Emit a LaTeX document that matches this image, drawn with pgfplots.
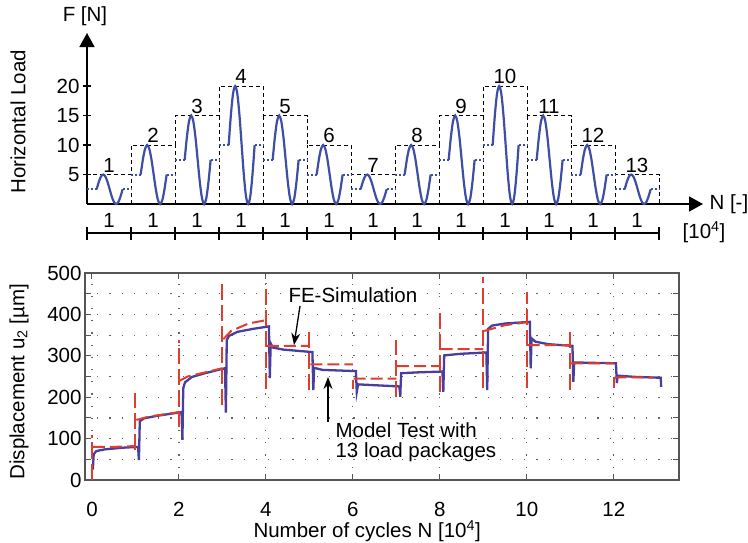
\documentclass[border=0pt]{standalone}
\usepackage{fontspec}
\setmainfont{Liberation Sans}
\usepackage{pgfplots}
\pgfplotsset{compat=1.18}
\usetikzlibrary{arrows.meta}
\definecolor{lblue}{RGB}{62,78,165}
\definecolor{mblue}{RGB}{72,62,158}
\definecolor{fered}{RGB}{222,62,45}
\definecolor{gridgray}{RGB}{100,100,100}
\definecolor{axgray}{RGB}{85,85,85}
\newcommand{\fs}{\fontsize{20.5}{24}\selectfont}
\begin{document}
\begin{tikzpicture}[font=\fs]
\useasboundingbox (0,0) rectangle (748pt,542pt);

% ---------------- top panel: load packages ----------------
\begin{axis}[
  at={(87pt,338pt)}, anchor=south west,
  scale only axis, width=616pt, height=171pt,
  xmin=0, xmax=14, ymin=0, ymax=29,
  axis lines=left,
  axis line style={black, line width=1.6pt, -{Triangle[length=14pt,width=15pt]}},
  xtick=\empty,
  ytick={5,10,15,20},
  tick align=center,
  major tick length=8pt,
  tick style={black, line width=1.2pt},
  /pgf/number format/assume math mode=true,
  tick label style={font=\fs},
  label style={font=\fs},
  ylabel={Horizontal Load},
  ylabel style={at={(axis description cs:-0.112,0.48)}, anchor=center},
  clip=false,
  unbounded coords=jump,
]
% dashed package boxes
\addplot[black, line width=0.9pt, dash pattern=on 4pt off 3pt] coordinates {
 (0,0)(0,5)(1,5)(1,10)(2,10)(2,15)(3,15)(3,20)(4,20)(4,15)(5,15)(5,10)(6,10)(6,5)
 (7,5)(7,10)(8,10)(8,15)(9,15)(9,20)(10,20)(10,15)(11,15)(11,10)(12,10)(12,5)(13,5)(13,0)};
\addplot[ycomb, black, line width=0.9pt, dash pattern=on 4pt off 3pt] coordinates {
 (1,5)(2,10)(3,15)(4,15)(5,10)(6,5)(7,5)(8,10)(9,15)(10,15)(11,10)(12,5)};
% dotted mean levels
\addplot[lblue, line width=2pt, dash pattern=on 2pt off 2pt] coordinates {
 (0,2.5)(0.22,2.5)(0.5,nan)(0.81,2.5)(1,2.5)(1,nan)
 (1,5)(1.22,5)(1.5,nan)(1.81,5)(2,5)(2,nan)
 (2,7.5)(2.22,7.5)(2.5,nan)(2.81,7.5)(3,7.5)(3,nan)
 (3,10)(3.22,10)(3.5,nan)(3.81,10)(4,10)(4,nan)
 (4,7.5)(4.22,7.5)(4.5,nan)(4.81,7.5)(5,7.5)(5,nan)
 (5,5)(5.22,5)(5.5,nan)(5.81,5)(6,5)(6,nan)
 (6,2.5)(6.22,2.5)(6.5,nan)(6.81,2.5)(7,2.5)(7,nan)
 (7,5)(7.22,5)(7.5,nan)(7.81,5)(8,5)(8,nan)
 (8,7.5)(8.22,7.5)(8.5,nan)(8.81,7.5)(9,7.5)(9,nan)
 (9,10)(9.22,10)(9.5,nan)(9.81,10)(10,10)(10,nan)
 (10,7.5)(10.22,7.5)(10.5,nan)(10.81,7.5)(11,7.5)(11,nan)
 (11,5)(11.22,5)(11.5,nan)(11.81,5)(12,5)(12,nan)
 (12,2.5)(12.22,2.5)(12.5,nan)(12.81,2.5)(13,2.5)};
% load cycles
\addplot[lblue, line width=2.2pt, smooth] coordinates {(0.22,2.5)(0.269,3.75)(0.318,4.67)(0.368,5)(0.417,4.67)(0.466,3.75)(0.515,2.5)(0.564,1.25)(0.613,0.33)(0.663,0)(0.712,0.33)(0.761,1.25)(0.81,2.5)};
\addplot[lblue, line width=2.2pt, smooth] coordinates {(1.22,5)(1.269,7.5)(1.318,9.33)(1.368,10)(1.417,9.33)(1.466,7.5)(1.515,5)(1.564,2.5)(1.613,0.67)(1.663,0)(1.712,0.67)(1.761,2.5)(1.81,5)};
\addplot[lblue, line width=2.2pt, smooth] coordinates {(2.22,7.5)(2.269,11.25)(2.318,14)(2.368,15)(2.417,14)(2.466,11.25)(2.515,7.5)(2.564,3.75)(2.613,1)(2.663,0)(2.712,1)(2.761,3.75)(2.81,7.5)};
\addplot[lblue, line width=2.2pt, smooth] coordinates {(3.22,10)(3.269,15)(3.318,18.66)(3.368,20)(3.417,18.66)(3.466,15)(3.515,10)(3.564,5)(3.613,1.34)(3.663,0)(3.712,1.34)(3.761,5)(3.81,10)};
\addplot[lblue, line width=2.2pt, smooth] coordinates {(4.22,7.5)(4.269,11.25)(4.318,14)(4.368,15)(4.417,14)(4.466,11.25)(4.515,7.5)(4.564,3.75)(4.613,1)(4.663,0)(4.712,1)(4.761,3.75)(4.81,7.5)};
\addplot[lblue, line width=2.2pt, smooth] coordinates {(5.22,5)(5.269,7.5)(5.318,9.33)(5.368,10)(5.417,9.33)(5.466,7.5)(5.515,5)(5.564,2.5)(5.613,0.67)(5.663,0)(5.712,0.67)(5.761,2.5)(5.81,5)};
\addplot[lblue, line width=2.2pt, smooth] coordinates {(6.22,2.5)(6.269,3.75)(6.318,4.67)(6.368,5)(6.417,4.67)(6.466,3.75)(6.515,2.5)(6.564,1.25)(6.613,0.33)(6.663,0)(6.712,0.33)(6.761,1.25)(6.81,2.5)};
\addplot[lblue, line width=2.2pt, smooth] coordinates {(7.22,5)(7.269,7.5)(7.318,9.33)(7.368,10)(7.417,9.33)(7.466,7.5)(7.515,5)(7.564,2.5)(7.613,0.67)(7.663,0)(7.712,0.67)(7.761,2.5)(7.81,5)};
\addplot[lblue, line width=2.2pt, smooth] coordinates {(8.22,7.5)(8.269,11.25)(8.318,14)(8.368,15)(8.417,14)(8.466,11.25)(8.515,7.5)(8.564,3.75)(8.613,1)(8.663,0)(8.712,1)(8.761,3.75)(8.81,7.5)};
\addplot[lblue, line width=2.2pt, smooth] coordinates {(9.22,10)(9.269,15)(9.318,18.66)(9.368,20)(9.417,18.66)(9.466,15)(9.515,10)(9.564,5)(9.613,1.34)(9.663,0)(9.712,1.34)(9.761,5)(9.81,10)};
\addplot[lblue, line width=2.2pt, smooth] coordinates {(10.22,7.5)(10.269,11.25)(10.318,14)(10.368,15)(10.417,14)(10.466,11.25)(10.515,7.5)(10.564,3.75)(10.613,1)(10.663,0)(10.712,1)(10.761,3.75)(10.81,7.5)};
\addplot[lblue, line width=2.2pt, smooth] coordinates {(11.22,5)(11.269,7.5)(11.318,9.33)(11.368,10)(11.417,9.33)(11.466,7.5)(11.515,5)(11.564,2.5)(11.613,0.67)(11.663,0)(11.712,0.67)(11.761,2.5)(11.81,5)};
\addplot[lblue, line width=2.2pt, smooth] coordinates {(12.22,2.5)(12.269,3.75)(12.318,4.67)(12.368,5)(12.417,4.67)(12.466,3.75)(12.515,2.5)(12.564,1.25)(12.613,0.33)(12.663,0)(12.712,0.33)(12.761,1.25)(12.81,2.5)};
% package numbers
\addplot[draw=none, nodes near coords, point meta=explicit symbolic,
  nodes near coords style={anchor=south, inner sep=2pt, font=\fs, black}] coordinates {
 (0.5,5)[1] (1.5,10)[2] (2.5,15)[3] (3.5,20)[4] (4.5,15)[5] (5.5,10)[6] (6.5,5)[7]
 (7.5,10)[8] (8.5,15)[9] (9.5,20)[10] (10.5,15)[11] (11.5,10)[12] (12.5,5)[13]};
% package durations
\addplot[draw=none, nodes near coords, point meta=explicit symbolic,
  nodes near coords style={anchor=center, inner sep=0pt, font=\fs, black}] coordinates {
 (0.5,-2.75)[1] (1.5,-2.75)[1] (2.5,-2.75)[1] (3.5,-2.75)[1] (4.5,-2.75)[1] (5.5,-2.75)[1] (6.5,-2.75)[1]
 (7.5,-2.75)[1] (8.5,-2.75)[1] (9.5,-2.75)[1] (10.5,-2.75)[1] (11.5,-2.75)[1] (12.5,-2.75)[1]};
\end{axis}

% scale bar below the top panel
\draw[black, line width=1.5pt] (87pt,309pt) -- (659pt,309pt);
\foreach \i in {0,...,13} \draw[black, line width=1.3pt] ({87pt+44pt*\i},302pt) -- ({87pt+44pt*\i},315pt);
\node at (85pt,526pt) {F [N]};
\node[anchor=west] at (706pt,338pt) {N [-]};
\node at (704pt,310pt) {[10\textsuperscript{4}]};

% ---------------- bottom panel: displacement ----------------
\begin{axis}[
  at={(85pt,62pt)}, anchor=south west,
  scale only axis, width=594pt, height=207pt,
  xmin=-0.16, xmax=13.5, ymin=0, ymax=500,
  xtick={0,2,...,12}, ytick={0,100,...,500}, minor ytick={50,150,...,450},
  grid=both,
  major grid style={gridgray, line width=1.2pt, dash pattern=on 1.2pt off 11pt},
  minor grid style={gridgray, line width=1.2pt, dash pattern=on 1.2pt off 11pt},
  tick align=inside, major tick length=6pt, minor tick length=6pt,
  tick style={axgray, line width=1pt},
  axis line style={axgray, line width=1.4pt},
  /pgf/number format/assume math mode=true,
  tick label style={font=\fs},
  label style={font=\fs},
  xticklabel style={yshift=-19pt},
  xlabel={Number of cycles N [10\textsuperscript{4}]},
  xlabel style={at={(axis description cs:0.475,0)}, anchor=center, yshift=-51pt},
  ylabel={Displacement u\textsubscript{2} [µm]},
  ylabel style={at={(axis description cs:-0.111,0.475)}, anchor=center},
  unbounded coords=jump,
]
% Model test
\addplot[mblue, line width=2.3pt] coordinates {
 (0.02,25)(0.04,62)(0.1,70)(0.3,74)(0.7,78)(1.06,80)(1.08,48)(1.1,142)(1.2,149)(1.5,155)(2.06,164)
 (2.08,97)(2.1,222)(2.14,236)(2.3,249)(2.6,258)(3.06,270)(3.08,163)(3.1,338)(3.15,348)(3.35,358)(3.7,365)(4.07,371)
 (4.09,246)(4.11,330)(4.16,320)(4.4,315)(5.07,309)(5.09,217)(5.11,271)(5.3,266)(6.07,263)
 (6.09,213)(6.12,231)(6.5,229)(7.07,226)(7.09,201)(7.11,258)(7.5,260)(8.06,262)
 (8.08,213)(8.1,301)(8.5,305)(9.07,308)(9.09,217)(9.11,365)(9.2,373)(9.5,378)(10.07,382)
 (10.09,270)(10.11,342)(10.2,334)(10.5,328)(11.05,324)(11.07,237)(11.09,284)(11.5,283)(12.05,282)
 (12.07,234)(12.09,252)(12.5,249)(13.08,247)(13.09,225)};
% FE simulation: load levels
\addplot[fered, line width=2pt, dash pattern=on 12pt off 5pt] coordinates {
 (0.02,80)(0.5,80)(1.0,82)(1.01,nan)
 (1.02,145)(1.3,153)(2.0,164)(2.01,nan)
 (2.02,240)(2.2,250)(2.6,260)(3.0,270)(3.01,nan)
 (3.02,340)(3.2,360)(3.6,378)(4.0,386)(4.01,nan)
 (4.02,324)(5.0,324)(5.01,nan)
 (5.02,279)(6.0,279)(6.01,nan)
 (6.02,245)(7.0,245)(7.01,nan)
 (7.02,275)(8.0,275)(8.01,nan)
 (8.02,316)(9.0,316)(9.01,nan)
 (9.02,360)(9.5,374)(10.0,381)(10.01,nan)
 (10.02,326)(11.0,326)(11.01,nan)
 (11.02,282)(12.0,282)(12.01,nan)
 (12.02,248)(12.9,248)};
% FE simulation: transients at package changes
\addplot[fered, line width=2pt, dash pattern=on 16pt off 5pt] coordinates {
 (0,0)(0,109)(0.5,nan)
 (1,72)(1,209)(1.5,nan)
 (2,129)(2,338)(2.5,nan)
 (3,181)(3,479)(3.5,nan)
 (4,221)(4,475)(4.5,nan)
 (5,217)(5,362)(5.5,nan)
 (6,220)(6,241)(6.5,nan)
 (7,201)(7,338)(7.5,nan)
 (8,213)(8,403)(8.5,nan)
 (9,222)(9,491)(9.5,nan)
 (10,222)(10,455)(10.5,nan)
 (11,217)(11,364)(11.5,nan)
 (12,222)(12,250)};
\end{axis}

% annotations
\node[anchor=west] at (285pt,247pt) {FE-Simulation};
\draw[black, line width=1.3pt, -{Stealth[length=12pt,width=9pt]}] (300pt,236pt) -- (294pt,197pt);
\node[anchor=west] at (332pt,112pt) {Model Test with};
\node[anchor=west] at (332pt,90pt) {13 load packages};
\draw[black, line width=1.3pt, -{Stealth[length=12pt,width=9pt]}] (328pt,120pt) -- (328pt,165pt);
\end{tikzpicture}
\end{document}
